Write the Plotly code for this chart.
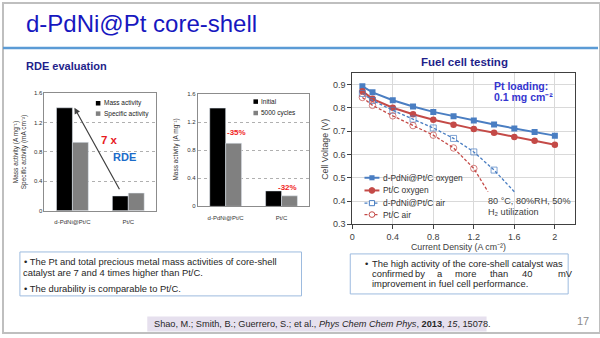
import plotly.graph_objects as go

W, H = 600, 338
def px(x): return x / W
def py(y): return 1 - y / H

# ---------------- data ----------------
rde_categories = ["d-PdNi@Pt/C", "Pt/C"]
mass_activity = [1.40, 0.20]
specific_activity = [0.93, 0.24]
initial_activity = [1.40, 0.22]
cycled_activity = [0.90, 0.15]

current_density = [0.1, 0.2, 0.4, 0.6, 0.8, 1.0, 1.2, 1.4, 1.6, 1.8, 2.0]
pdni_oxygen = [0.893, 0.867, 0.833, 0.806, 0.783, 0.764, 0.746, 0.729, 0.712, 0.697, 0.681]
ptc_oxygen = [0.872, 0.839, 0.801, 0.773, 0.749, 0.728, 0.710, 0.693, 0.675, 0.659, 0.642]
current_density_pdni_air = [0.1, 0.2, 0.4, 0.6, 0.8, 1.0, 1.2, 1.4, 1.6]
pdni_air = [0.862, 0.832, 0.790, 0.752, 0.714, 0.669, 0.611, 0.533, 0.440]
current_density_ptc_air = [0.1, 0.2, 0.4, 0.6, 0.8, 1.0, 1.2, 1.34]
ptc_air = [0.845, 0.811, 0.766, 0.724, 0.683, 0.628, 0.540, 0.440]

FONT = "Liberation Sans"
BLUE = "#4A7EC2"
RED = "#C44A47"
DASH = "3px,2px"

fig = go.Figure()

# ---------------- RDE chart 1 ----------------
fig.add_trace(go.Bar(x=rde_categories, y=mass_activity, name="Mass activity",
                     marker_color="#000000", xaxis="x", yaxis="y"))
fig.add_trace(go.Bar(x=rde_categories, y=specific_activity, name="Specific activity",
                     marker_color="#808080", xaxis="x", yaxis="y"))
# ---------------- RDE chart 2 ----------------
fig.add_trace(go.Bar(x=rde_categories, y=initial_activity, name="Initial",
                     marker_color="#000000", xaxis="x2", yaxis="y2"))
fig.add_trace(go.Bar(x=rde_categories, y=cycled_activity, name="5000 cycles",
                     marker_color="#808080", xaxis="x2", yaxis="y2"))

# ---------------- Fuel cell ----------------
def sizes(n, s):
    return [s] * (n - 1) + [0]

fig.add_trace(go.Scatter(x=current_density, y=pdni_oxygen, mode="lines+markers",
                         name="d-PdNi@Pt/C oxygen", line=dict(color=BLUE, width=2),
                         marker=dict(symbol="square", size=6, color=BLUE),
                         xaxis="x3", yaxis="y3"))
fig.add_trace(go.Scatter(x=current_density, y=ptc_oxygen, mode="lines+markers",
                         name="Pt/C oxygen", line=dict(color=RED, width=2),
                         marker=dict(symbol="circle", size=6.5, color=RED),
                         xaxis="x3", yaxis="y3"))
fig.add_trace(go.Scatter(x=current_density_pdni_air, y=pdni_air, mode="lines+markers",
                         name="d-PdNi@Pt/C air", line=dict(color=BLUE, width=1.3, dash=DASH),
                         marker=dict(symbol="square-open", size=sizes(len(pdni_air), 6), color=BLUE,
                                     line=dict(width=1)),
                         xaxis="x3", yaxis="y3"))
fig.add_trace(go.Scatter(x=current_density_ptc_air, y=ptc_air, mode="lines+markers",
                         name="Pt/C air", line=dict(color=RED, width=1.3, dash=DASH),
                         marker=dict(symbol="circle-open", size=sizes(len(ptc_air), 6.5), color=RED,
                                     line=dict(width=1)),
                         xaxis="x3", yaxis="y3"))

bar_x = dict(type="category", showline=True, linecolor="#8c8c8c", linewidth=1, mirror=True,
             ticks="", tickfont=dict(family=FONT, size=6, color="#333"), ticklabelstandoff=5,
             showgrid=False, fixedrange=True)
bar_y = dict(range=[0, 1.6], dtick=0.4, tick0=0, showline=True, linecolor="#8c8c8c", linewidth=1,
             mirror=True, showgrid=True, gridcolor="#b0b0b0", griddash="dot", gridwidth=1,
             tickfont=dict(family=FONT, size=6, color="#333"), zeroline=False, ticks="",
             fixedrange=True)

layout_axes = dict(
    xaxis=dict(domain=[px(41.7), px(154)], anchor="y", **bar_x),
    yaxis=dict(domain=[py(212.7), py(92.3)], anchor="x", **bar_y),
    xaxis2=dict(domain=[px(195.7), px(308)], anchor="y2", **bar_x),
    yaxis2=dict(domain=[py(208.3), py(93.3)], anchor="x2", **bar_y),
    xaxis3=dict(domain=[px(351), px(575)], anchor="y3", range=[0, 2.2], dtick=0.4, tick0=0,
                showline=True, linecolor="#404040", linewidth=1, mirror=True, ticks="outside",
                ticklen=4, tickcolor="#404040", showgrid=True, gridcolor="#d9d9d9", zeroline=False,
                tickfont=dict(family=FONT, size=9, color="#404040")),
    yaxis3=dict(domain=[py(226.7), py(71.7)], anchor="x3", range=[0.3, 0.95], dtick=0.1, tick0=0.3,
                showline=True, linecolor="#404040", linewidth=1, mirror=True, ticks="outside",
                ticklen=4, tickcolor="#404040", showgrid=True, gridcolor="#d9d9d9", zeroline=False,
                tickfont=dict(family=FONT, size=9, color="#404040")),
)

fig.update_layout(
    width=W, height=H, margin=dict(l=0, r=0, t=0, b=0), autosize=False,
    paper_bgcolor="white", plot_bgcolor="white",
    barmode="group", bargap=0.43, bargroupgap=0,
    showlegend=False, hovermode=False,
    **layout_axes,
)

ann = []
def text(x, y, t, size, color="#262626", bold=False, anchor="left", family=FONT, angle=0, yanchor="middle"):
    if bold:
        t = "<b>" + t + "</b>"
    ann.append(dict(xref="paper", yref="paper", x=px(x), y=py(y), text=t, showarrow=False,
                    xanchor=anchor, yanchor=yanchor, textangle=angle,
                    font=dict(family=family, size=size, color=color)))

shapes = []
def rect(x0, y0, x1, y1, fill=None, line_color=None, lw=1, layer="above"):
    shapes.append(dict(type="rect", xref="paper", yref="paper", x0=px(x0), x1=px(x1),
                       y0=py(y1), y1=py(y0), fillcolor=fill if fill else "rgba(0,0,0,0)",
                       line=dict(color=line_color if line_color else "rgba(0,0,0,0)",
                                 width=lw if line_color else 0), layer=layer))
def seg(x0, x1, y, color, width, dash=None):
    d = dict(color=color, width=width)
    if dash:
        d["dash"] = dash
    shapes.append(dict(type="line", xref="paper", yref="paper", x0=px(x0), x1=px(x1),
                       y0=py(y), y1=py(y), line=d))
def circ(cx, cy, r, fill, color, lw=1):
    shapes.append(dict(type="circle", xref="paper", yref="paper", x0=px(cx - r), x1=px(cx + r),
                       y0=py(cy + r), y1=py(cy - r), fillcolor=fill, line=dict(color=color, width=lw)))

# Titles
text(21, 21, "d-PdNi@Pt core-shell", 24, color="#1717BF")
text(21, 65, "RDE evaluation", 11, color="#1F1F8A", bold=True)
text(463.5, 60.5, "Fuel cell testing", 11.5, color="#1F1F8A", bold=True, anchor="center")

# Axis titles
text(17, 152, "Mass activity (A mg⁻¹)<br>Specific activity (mA cm⁻²)", 6.5,
     color="#333", anchor="center", angle=-90)
text(174, 150, "Mass activity (A mg⁻¹)", 6.5, color="#333", anchor="center", angle=-90)
text(458, 250, "Current Density (A cm⁻²)", 8.8, color="#404040", anchor="center")
text(324, 150, "Cell Voltage (V)", 8.8, color="#404040", anchor="center", angle=-90)

# Legends (bar charts)
for (lx, ly, label, col) in [(93.3, 102.7, "Mass activity", "#000000"),
                             (93.3, 113.3, "Specific activity", "#808080"),
                             (251.7, 101.0, "Initial", "#000000"),
                             (251.7, 112.7, "5000 cycles", "#808080")]:
    rect(lx, ly - 2.3, lx + 4.6, ly + 2.3, fill=col)
    text(lx + 6, ly, label, 6.5, color="#222")

# Legend (fuel cell)
leg = [(179.0, "d-PdNi@Pt/C oxygen", BLUE, None, "sq"),
       (192.0, "Pt/C oxygen", RED, None, "ci"),
       (205.0, "d-PdNi@Pt/C air", BLUE, DASH, "sqo"),
       (216.7, "Pt/C air", RED, DASH, "cio")]
for (ly, label, col, dash, sym) in leg:
    seg(363.3, 378.3, ly, col, 2 if dash is None else 1.3, dash)
    cx = 370.8
    if sym == "sq":
        rect(cx - 2.6, ly - 2.6, cx + 2.6, ly + 2.6, fill=col)
    elif sym == "sqo":
        rect(cx - 2.6, ly - 2.6, cx + 2.6, ly + 2.6, fill="white", line_color=col, lw=1)
    elif sym == "ci":
        circ(cx, ly, 2.9, col, col)
    else:
        circ(cx, ly, 2.9, "white", col)
    text(379.5, ly, label, 8.4, color="#333")

# Fuel cell notes
text(491, 84.5, "Pt loading:", 10.5, color="#3535CF", bold=True)
text(491, 96.5, "0.1 mg cm⁻²", 10.5, color="#3535CF", bold=True)
text(485, 202.5, "80 °C, 80%RH, 50%", 9.1, color="#404040")
text(485, 214, "H₂ utilization", 9.1, color="#404040")

# Bar chart annotations (data coordinates)
ann.append(dict(xref="x", yref="y", axref="x", ayref="y", x=0.036, y=1.40, ax=0.866, ay=0.258,
                showarrow=True, arrowhead=2, arrowsize=1, arrowwidth=1.2, arrowcolor="#404040",
                text=" ", font=dict(family=FONT, size=2)))
ann.append(dict(xref="x", yref="y", x=0.66, y=0.966, text="<b>7 x</b>", showarrow=False,
                font=dict(family=FONT, size=11.5, color="#E8191E")))
ann.append(dict(xref="x", yref="y", x=0.93, y=0.727, text="<b>RDE</b>", showarrow=False,
                font=dict(family=FONT, size=11, color="#1C6BC9")))
ann.append(dict(xref="x2", yref="y2", x=0.20, y=1.057, text="<b>-35%</b>", showarrow=False,
                font=dict(family=FONT, size=8, color="#F01E23")))
ann.append(dict(xref="x2", yref="y2", x=1.11, y=0.268, text="<b>-32%</b>", showarrow=False,
                font=dict(family=FONT, size=8, color="#F01E23")))

# Text box 1
text(19, 264.5, "• The Pt and total precious metal mass activities of core-shell", 9.4)
text(18, 276, "catalyst are 7 and 4 times higher than Pt/C.", 9.4)
text(19, 292, "• The durability is comparable to Pt/C.", 9.4)

# Text box 2
text(362, 266.5, "•", 9.4)
text(369, 266.5, "The high activity of the core-shell catalyst was", 9.4)
for wx, w in [(369, "confirmed"), (412, "by"), (434, "a"), (452.5, "more"), (487, "than"),
              (520, "40"), (556, "mV")]:
    text(wx, 277, w, 9.4)
text(369, 287.5, "improvement in fuel cell performance.", 9.4)

# Citation
text(150, 329, "Shao, M.; Smith, B.; Guerrero, S.; et al., <i>Phys Chem Chem Phys</i>, <b>2013</b>, <i>15</i>, 15078.",
     9.2, color="#262626")
text(583, 326, "17", 11, color="#8c8c8c", anchor="center")

shapes += [
    dict(type="rect", xref="paper", yref="paper", x0=0, y0=0, x1=1, y1=1,
         line=dict(color="#bfbfbf", width=2), layer="below"),
    dict(type="line", xref="paper", yref="paper", x0=0, x1=px(598), y0=py(46), y1=py(46),
         line=dict(color="#5B9BD5", width=2.5)),
    dict(type="rect", xref="paper", yref="paper", x0=px(17), x1=px(300), y0=py(255), y1=py(300),
         line=dict(color="#9DBBDF", width=1)),
    dict(type="rect", xref="paper", yref="paper", x0=px(349), x1=px(568), y0=py(257), y1=py(298),
         line=dict(color="#9DBBDF", width=1)),
    dict(type="rect", xref="paper", yref="paper", x0=px(145), x1=px(486), y0=py(321), y1=py(336.5),
         line=dict(width=0), fillcolor="#E6E0EE", layer="below"),
]

fig.update_layout(annotations=ann, shapes=shapes)
fig.write_html("out.html", config={"displayModeBar": False, "staticPlot": True})
